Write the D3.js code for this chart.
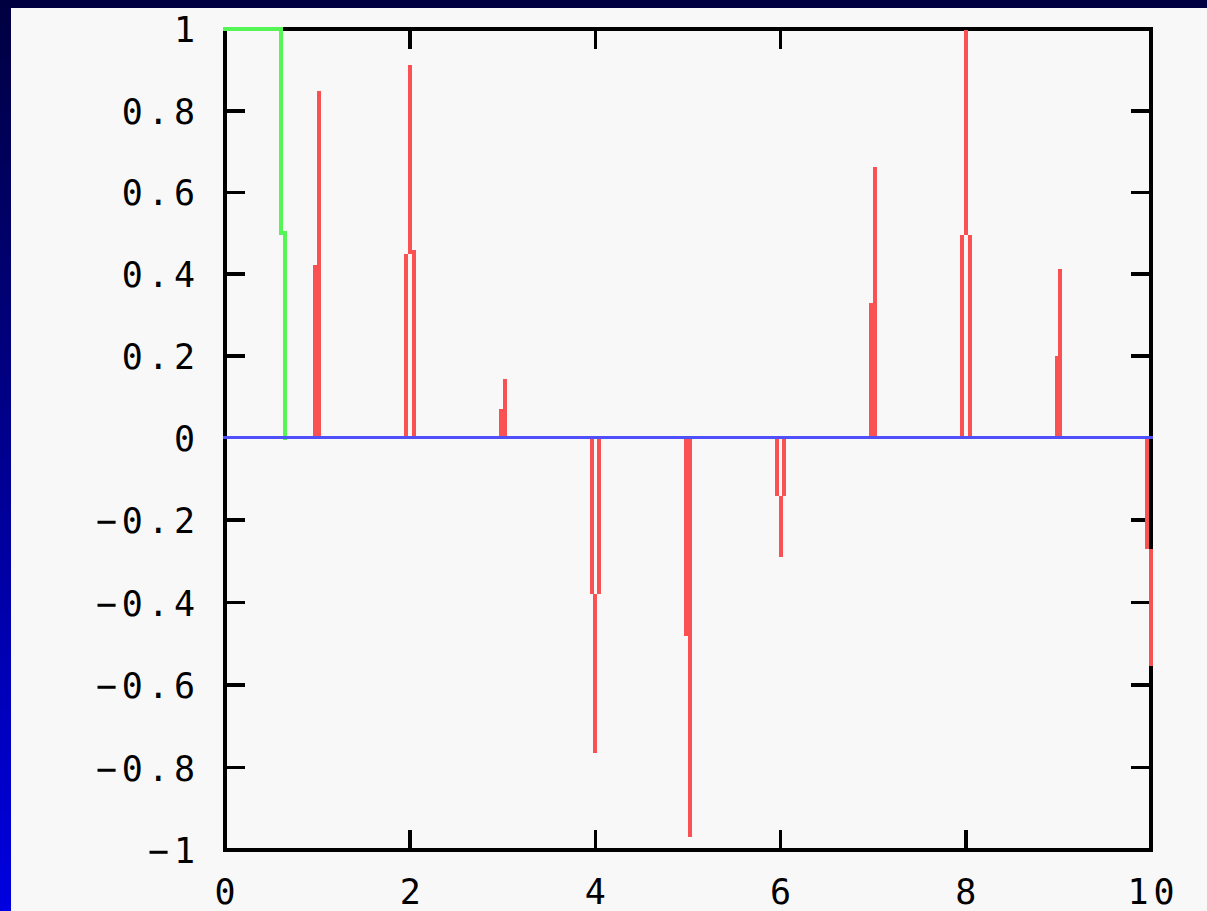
<!DOCTYPE html>
<html>
<head>
<meta charset="utf-8">
<script src="https://cdn.jsdelivr.net/npm/d3@7"></script>
<style>
html, body { margin: 0; padding: 0; overflow: hidden; background: #000040; }
svg { display: block; }
</style>
</head>
<body>
<svg id="chart" width="1207" height="911"></svg>
<script>
// ---- data ----
const xTicks = [0, 2, 4, 6, 8, 10];
const xTickLabels = ["0", "2", "4", "6", "8", "10"];
const yTicks = [-1, -0.8, -0.6, -0.4, -0.2, 0, 0.2, 0.4, 0.6, 0.8, 1];
const yTickLabels = ["\u22121", "\u22120.8", "\u22120.6", "\u22120.4", "\u22120.2", "0", "0.2", "0.4", "0.6", "0.8", "1"];

// green step series
const greenX = [0, 0.61, 0.653];
const greenY = [1, 0.5, 0];

// blue zero line
const blueX = [0, 10];
const blueY = [0, 0];

// red vertical segments: x position, start value, end value
const redX    = [0.977, 1.020, 1.959, 2.002, 2.045, 2.984, 3.022, 3.961, 3.999, 4.042,
                 4.981, 5.024, 5.963, 6.001, 6.039, 6.978, 7.021, 7.960, 8.003, 8.041,
                 8.980, 9.018, 9.957, 10.0];
const redFrom = [0, 0, 0, 0.45, 0, 0, 0, 0, -0.379, 0,
                 0, 0, 0, -0.142, 0, 0, 0, 0, 0.496, 0,
                 0, 0, 0, -0.271];
const redTo   = [0.423, 0.849, 0.45, 0.913, 0.46, 0.070, 0.143, -0.379, -0.765, -0.379,
                 -0.482, -0.969, -0.142, -0.289, -0.142, 0.330, 0.663, 0.496, 0.997, 0.496,
                 0.199, 0.413, -0.271, -0.555];

// ---- drawing ----
const W = 1207, H = 911;
const svg = d3.select("#chart");

const defs = svg.append("defs");
const grad = defs.append("linearGradient").attr("id", "bg")
  .attr("x1", 0).attr("y1", 0).attr("x2", 0).attr("y2", 1);
grad.append("stop").attr("offset", "0%").attr("stop-color", "#000040");
grad.append("stop").attr("offset", "100%").attr("stop-color", "#0000e0");

svg.append("rect").attr("x", 0).attr("y", 0).attr("width", W).attr("height", H)
  .attr("fill", "url(#bg)");
svg.append("rect").attr("x", 11).attr("y", 8).attr("width", W - 11).attr("height", H - 8)
  .attr("fill", "#f8f8f8");

const x = d3.scaleLinear().domain([0, 10]).range([225, 1151]);
const y = d3.scaleLinear().domain([-1, 0, 1]).range([850, 437.5, 29]);

const g = svg.append("g");

// frame
g.append("rect")
  .attr("x", x(0)).attr("y", y(1))
  .attr("width", x(10) - x(0)).attr("height", y(-1) - y(1))
  .attr("fill", "none").attr("stroke", "#000").attr("stroke-width", 4)
  .attr("shape-rendering", "crispEdges");

const tickLen = 20;
const tickG = g.append("g").attr("stroke", "#000").attr("stroke-width", 3.7)
  .attr("shape-rendering", "crispEdges");
yTicks.forEach(v => {
  tickG.append("line").attr("x1", x(0)).attr("x2", x(0) + tickLen)
    .attr("y1", y(v)).attr("y2", y(v));
  tickG.append("line").attr("x1", x(10)).attr("x2", x(10) - tickLen)
    .attr("y1", y(v)).attr("y2", y(v));
});
xTicks.forEach(v => {
  tickG.append("line").attr("x1", x(v)).attr("x2", x(v))
    .attr("y1", y(-1)).attr("y2", y(-1) - tickLen);
  tickG.append("line").attr("x1", x(v)).attr("x2", x(v))
    .attr("y1", y(1)).attr("y2", y(1) + tickLen);
});

// labels
const fontFam = "'DejaVu Sans Mono', 'Liberation Mono', monospace";
const ls = 5;
g.append("g").selectAll("text").data(yTicks).join("text")
  .attr("x", 200)
  .attr("y", d => y(d) + 13)
  .attr("text-anchor", "end")
  .attr("font-family", fontFam)
  .attr("font-size", 35)
  .attr("letter-spacing", ls)
  .attr("fill", "#000")
  .text((d, i) => yTickLabels[i]);

g.append("g").selectAll("text").data(xTicks).join("text")
  .attr("x", d => x(d) + ls / 2)
  .attr("y", 904)
  .attr("text-anchor", "middle")
  .attr("font-family", fontFam)
  .attr("font-size", 35)
  .attr("letter-spacing", ls)
  .attr("fill", "#000")
  .text((d, i) => xTickLabels[i]);

// green step line
const greenPts = greenX.map((v, i) => [v, greenY[i]]);
g.append("path")
  .datum(greenPts)
  .attr("d", d3.line().x(d => x(d[0])).y(d => y(d[1])).curve(d3.curveStepAfter))
  .attr("fill", "none").attr("stroke", "#55f555").attr("stroke-width", 4)
  .attr("stroke-linejoin", "miter").attr("stroke-linecap", "square")
  .attr("shape-rendering", "crispEdges");

// red segments
const redIdx = d3.range(redX.length);
g.append("g").selectAll("line").data(redIdx).join("line")
  .attr("x1", i => x(redX[i])).attr("x2", i => x(redX[i]))
  .attr("y1", i => y(redFrom[i])).attr("y2", i => y(redTo[i]))
  .attr("stroke", "#fa5252").attr("stroke-width", 4)
  .attr("shape-rendering", "crispEdges");

// blue zero line
const bluePts = blueX.map((v, i) => [v, blueY[i]]);
g.append("path")
  .datum(bluePts)
  .attr("d", d3.line().x(d => x(d[0])).y(d => y(d[1])))
  .attr("fill", "none").attr("stroke", "#5050fa").attr("stroke-width", 3.5)
  .attr("stroke-linecap", "square")
  .attr("shape-rendering", "crispEdges");
</script>
</body>
</html>
